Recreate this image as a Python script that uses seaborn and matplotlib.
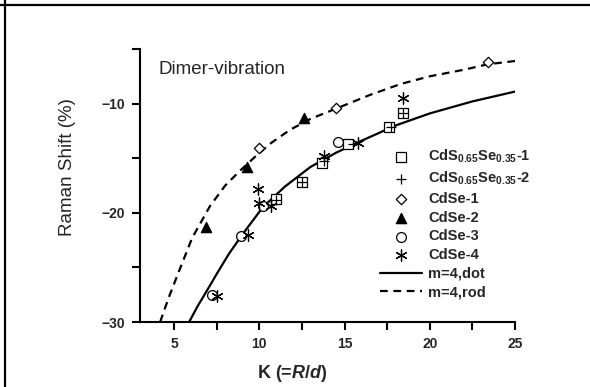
import matplotlib.pyplot as plt
import seaborn as sns
from matplotlib.lines import Line2D

# measured points
k_cdsse_1 = [11.0, 12.5, 13.7, 15.2, 17.6, 18.4]
s_cdsse_1 = [-18.7, -17.2, -15.4, -13.7, -12.1, -10.9]
k_cdsse_2 = [11.0, 12.5, 13.8, 15.5, 17.7, 18.4]
s_cdsse_2 = [-18.8, -17.2, -15.3, -13.7, -12.1, -10.9]
k_cdse_1 = [10.0, 14.5, 23.4]
s_cdse_1 = [-14.1, -10.4, -6.2]
k_cdse_2 = [6.9, 9.3, 12.6]
s_cdse_2 = [-21.3, -15.8, -11.3]
k_cdse_3 = [7.2, 8.9, 10.2, 14.6]
s_cdse_3 = [-27.5, -22.1, -19.4, -13.5]
k_cdse_4 = [7.5, 9.35, 9.9, 10.0, 10.7, 13.8, 15.8, 18.4]
s_cdse_4 = [-27.6, -22.0, -17.8, -19.1, -19.4, -14.8, -13.6, -9.45]

# theory curves
k_dot = [5.88, 6.4, 6.9, 7.5, 8.2, 9.0, 10.2, 11.5, 13.0, 14.5, 16.0, 18.0, 20.0, 22.5, 25.0]
s_dot = [-30.0, -28.5, -27.2, -25.6, -23.8, -22.0, -19.5, -17.6, -15.8, -14.5, -13.4, -12.0, -10.9, -9.8, -8.9]
k_rod = [4.18, 4.7, 5.3, 6.06, 7.1, 8.0, 8.9, 9.8, 10.7, 11.8, 13.0, 14.6, 16.5, 18.3, 20.0, 22.0, 23.4, 25.0]
s_rod = [-30.0, -27.7, -25.3, -22.3, -19.4, -17.5, -16.1, -14.8, -13.6, -12.4, -11.4, -10.4, -9.2, -8.2, -7.5, -6.9, -6.4, -6.1]

sns.set_theme(style="ticks")
plt.rcParams["font.family"] = ["Liberation Sans", "DejaVu Sans"]
plt.rcParams["mathtext.fontset"] = "custom"
plt.rcParams["mathtext.rm"] = "Liberation Sans:bold"
plt.rcParams["mathtext.bf"] = "Liberation Sans:bold"
plt.rcParams["mathtext.it"] = "Liberation Sans:italic:bold"

fig = plt.figure(figsize=(5.9, 3.87), dpi=100)
ax = fig.add_axes([140 / 590, 1 - 322 / 387, 375 / 590, 273 / 387])

sns.scatterplot(x=k_cdsse_1, y=s_cdsse_1, ax=ax, marker="s", s=42, facecolor="white",
                edgecolor="black", linewidth=0.9, label=r"CdS$_{\mathrm{0.65}}$Se$_{\mathrm{0.35}}$-1", zorder=3)
sns.scatterplot(x=k_cdsse_2, y=s_cdsse_2, ax=ax, marker="+", s=55, color="black",
                linewidth=0.9, label=r"CdS$_{\mathrm{0.65}}$Se$_{\mathrm{0.35}}$-2", zorder=3)
sns.scatterplot(x=k_cdse_1, y=s_cdse_1, ax=ax, marker="D", s=28, facecolor="white",
                edgecolor="black", linewidth=0.9, label="CdSe-1", zorder=3)
sns.scatterplot(x=k_cdse_2, y=s_cdse_2, ax=ax, marker="^", s=55, color="black",
                edgecolor="black", linewidth=0.9, label="CdSe-2", zorder=3)
sns.scatterplot(x=k_cdse_3, y=s_cdse_3, ax=ax, marker="o", s=50, facecolor="white",
                edgecolor="black", linewidth=0.9, label="CdSe-3", zorder=3)
sns.scatterplot(x=k_cdse_4, y=s_cdse_4, ax=ax, marker=(6, 2, 0), s=65, color="black",
                linewidth=0.9, label="CdSe-4", zorder=3)
sns.lineplot(x=k_dot, y=s_dot, ax=ax, sort=False, estimator=None, color="black",
             linewidth=1.6, label="m=4,dot")
sns.lineplot(x=k_rod, y=s_rod, ax=ax, sort=False, estimator=None, color="black",
             linewidth=1.6, linestyle=(0, (3.5, 2.5)), label="m=4,rod")

ax.set_xlim(3, 25)
ax.set_ylim(-30, -5)
ax.set_xticks([5, 10, 15, 20, 25])
ax.set_xticks([7.5, 12.5, 17.5, 22.5], minor=True)
ax.set_yticks([-30, -20, -10])
ax.set_yticks([-25, -15, -5], minor=True)
sns.despine(ax=ax)
for sp in ["left", "bottom"]:
    ax.spines[sp].set_linewidth(1.5)
    ax.spines[sp].set_color("black")
ax.tick_params(which="both", direction="out", length=6, width=1.5, color="black",
               labelsize=10, pad=5)
for lab in ax.get_xticklabels() + ax.get_yticklabels():
    lab.set_fontweight("bold")

ax.set_xlabel(r"K (=$R/d$)", fontsize=13, fontweight="bold")
ax.set_ylabel("Raman Shift (%)", fontsize=13.5)
ax.xaxis.set_label_coords(0.405, -0.15)
ax.yaxis.set_label_coords(-0.171, 0.568)

ax.text(4.1, -6.9, "Dimer-vibration", fontsize=13.5, va="center", ha="left")

handles, labels = ax.get_legend_handles_labels()
leg = ax.legend(handles, labels, loc="upper left", bbox_to_anchor=(380 / 590, 1 - 148 / 387),
                bbox_transform=fig.transFigure, frameon=False, fontsize=10.5,
                handlelength=2.9, handletextpad=0.4, labelspacing=0.32,
                borderpad=0, borderaxespad=0)
for t in leg.get_texts():
    t.set_fontweight("bold")

# outer frame lines (top and left)
fig.add_artist(Line2D([0, 1], [1 - 5 / 387, 1 - 5 / 387], transform=fig.transFigure,
                      color="black", linewidth=1.6))
fig.add_artist(Line2D([5 / 590, 5 / 590], [0, 1], transform=fig.transFigure,
                      color="black", linewidth=1.6))

plt.savefig("out.png", dpi=100)
